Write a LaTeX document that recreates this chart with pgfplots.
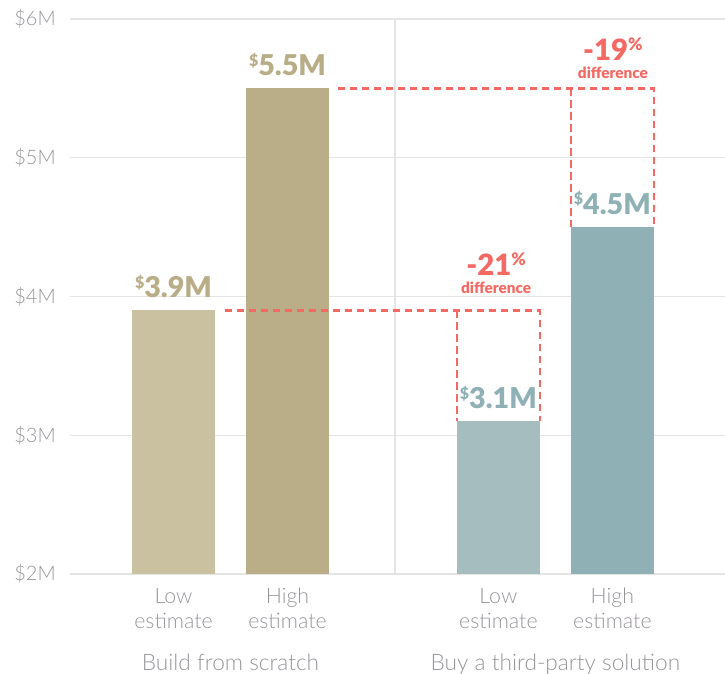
\documentclass[border=0pt]{standalone}
\usepackage{fontspec}
\setmainfont{Lato}[BoldFont={Lato Black}]
\newfontfamily\lightfont{Lato Light}
\usepackage{pgfplots}
\pgfplotsset{compat=1.18}
\definecolor{buildlow}{HTML}{C9C1A0}
\definecolor{buildhigh}{HTML}{BAAE89}
\definecolor{buylow}{HTML}{A5BDBF}
\definecolor{buyhigh}{HTML}{8FB1B5}
\definecolor{tanlab}{HTML}{B9AD88}
\definecolor{bluelab}{HTML}{8FB1B5}
\definecolor{redc}{HTML}{F26A63}
\definecolor{txtgray}{HTML}{98949C}
\definecolor{gridgray}{HTML}{E4E4E4}
\newcommand{\val}[1]{{\fontsize{12}{12}\selectfont\raisebox{7pt}{\$}}#1}
\newcommand{\pct}[1]{#1{\fontsize{13}{13}\selectfont\raisebox{7.5pt}{\%}}}
\begin{document}
\begin{tikzpicture}[x=1pt,y=1pt]
\useasboundingbox (-52.5,-75) rectangle (491.25,430.5);
\begin{axis}[
  at={(0,0)}, anchor=south west,
  scale only axis, width=491.25pt, height=416.25pt,
  xmin=-0.908, xmax=4.838, ymin=2, ymax=6,
  axis line style={draw=none},
  tick style={draw=none},
  major tick length=0pt,
  ytick={2,3,4,5,6},
  yticklabels={\$2M,\$3M,\$4M,\$5M,\$6M},
  ymajorgrids,
  grid style={gridgray, line width=1.1pt},
  xtick={0,1,2.85,3.85},
  xticklabels={{Low\\estimate},{High\\estimate},{Low\\estimate},{High\\estimate}},
  ticklabel style={text=txtgray, inner sep=0pt},
  yticklabel style={font=\lightfont\fontsize{15}{18}\selectfont, anchor=east, xshift=-10.5pt},
  xticklabel style={font=\lightfont\fontsize{16}{18.75}\selectfont, align=center, anchor=north, yshift=-10.5pt},
  clip mode=individual,
]
% separator
\addplot[gridgray, line width=1.1pt, sharp plot, forget plot] coordinates {(1.943,2) (1.943,6)};
% bars
\addplot[ybar, bar width=0.728, bar shift=0pt, fill=buildlow, draw=none] coordinates {(0,3.9)};
\addplot[ybar, bar width=0.728, bar shift=0pt, fill=buildhigh, draw=none] coordinates {(1,5.5)};
\addplot[ybar, bar width=0.728, bar shift=0pt, fill=buylow, draw=none] coordinates {(2.85,3.1)};
\addplot[ybar, bar width=0.728, bar shift=0pt, fill=buyhigh, draw=none] coordinates {(3.85,4.5)};
% dashed difference boxes
\addplot[redc, line width=1.8pt, dash pattern=on 5.5pt off 3.5pt, sharp plot] coordinates {(0.452,3.9) (3.214,3.9) (3.214,3.1)};
\addplot[redc, line width=1.8pt, dash pattern=on 5.5pt off 3.5pt, sharp plot] coordinates {(2.486,3.9) (2.486,3.1)};
\addplot[redc, line width=1.8pt, dash pattern=on 5.5pt off 3.5pt, sharp plot] coordinates {(1.443,5.5) (4.214,5.5) (4.214,4.5)};
\addplot[redc, line width=1.8pt, dash pattern=on 5.5pt off 3.5pt, sharp plot] coordinates {(3.486,5.5) (3.486,4.5)};
% value labels
\node[anchor=base, inner sep=0pt, text=tanlab, font=\bfseries\fontsize{21.5}{21.5}\selectfont, yshift=9.75pt] at (axis cs:0,3.9) {\val{3.9M}};
\node[anchor=base, inner sep=0pt, text=tanlab, font=\bfseries\fontsize{21.5}{21.5}\selectfont, yshift=9.75pt] at (axis cs:1,5.5) {\val{5.5M}};
\node[anchor=base, inner sep=0pt, text=bluelab, font=\bfseries\fontsize{21.5}{21.5}\selectfont, yshift=9.75pt] at (axis cs:2.85,3.1) {\val{3.1M}};
\node[anchor=base, inner sep=0pt, text=bluelab, font=\bfseries\fontsize{21.5}{21.5}\selectfont, yshift=9.75pt] at (axis cs:3.85,4.5) {\val{4.5M}};
% difference labels
\node[anchor=base, inner sep=0pt, text=redc, font=\bfseries\fontsize{11.5}{11.5}\selectfont, yshift=13pt] at (axis cs:2.83,3.9) {difference};
\node[anchor=base, inner sep=0pt, text=redc, font=\bfseries\fontsize{22}{22}\selectfont, yshift=26.5pt] at (axis cs:2.83,3.9) {\pct{-21}};
\node[anchor=base, inner sep=0pt, text=redc, font=\bfseries\fontsize{11.5}{11.5}\selectfont, yshift=7.5pt] at (axis cs:3.855,5.5) {difference};
\node[anchor=base, inner sep=0pt, text=redc, font=\bfseries\fontsize{22}{22}\selectfont, yshift=21pt] at (axis cs:3.855,5.5) {\pct{-19}};
% group labels
\node[anchor=base, inner sep=0pt, text=txtgray, font=\lightfont\fontsize{17}{17}\selectfont, yshift=-72pt] at (axis cs:0.5,2) {Build from scratch};
\node[anchor=base, inner sep=0pt, text=txtgray, font=\lightfont\fontsize{17}{17}\selectfont, yshift=-72pt] at (axis cs:3.35,2) {Buy a third-party solution};
\end{axis}
\end{tikzpicture}
\end{document}
